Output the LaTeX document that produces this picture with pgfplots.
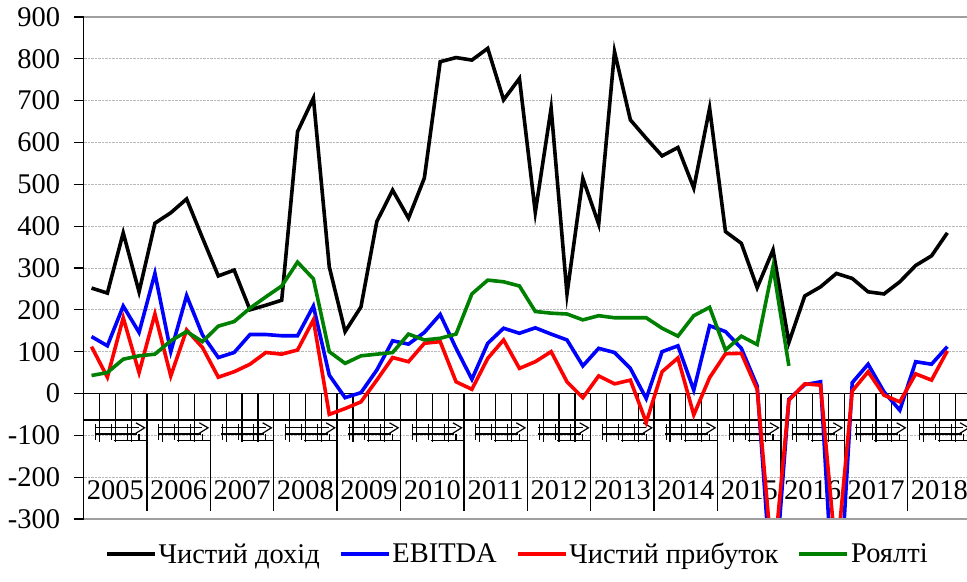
\documentclass[border=0pt]{standalone}
\usepackage{fontspec}
\setmainfont{Liberation Serif}
\usepackage{pgfplots}
\usepackage{pgfplotstable}
\pgfplotsset{compat=1.18}
\newcommand{\cf}{\fontsize{28.5}{34}\selectfont}

\pgfplotstableread{
q black blue red green
0 252 136 112 43
1 240 114 39 50
2 384 209 181 82
3 243 146 50 90
4 407 287 190 94
5 432 100 42 126
6 465 234 152 148
7 372 140 110 124
8 281 86 39 161
9 295 98 52 172
10 200 141 70 204
11 211 141 98 231
12 223 138 94 257
13 626 138 104 314
14 706 209 176 274
15 303 44 -50 100
16 148 -10 -36 72
17 207 2 -20 90
18 411 56 32 94
19 486 126 86 98
20 419 118 76 142
21 515 146 120 128
22 793 189 124 132
23 803 108 28 142
24 797 34 10 238
25 825 120 84 271
26 702 156 128 267
27 753 144 60 257
28 433 157 76 196
29 682 142 100 192
30 238 128 28 190
31 514 66 -10 176
32 405 108 42 186
33 817 98 23 181
34 654 60 32 181
35 610 -12 -69 181
36 568 100 52 156
37 588 114 85 137
38 491 8 -51 186
39 682 162 38 206
40 387 148 95 104
41 359 108 96 137
42 253 18 10 117
43 343 -510 -420 303
44 122 -14 -16 66
45 233 21 23 nan
46 255 28 20 nan
47 287 -620 -400 nan
48 275 26 6 nan
49 243 70 52 nan
50 238 4 -4 nan
51 267 -40 -20 nan
52 306 76 47 nan
53 329 70 32 nan
54 384 112 102 nan
}\datatable

\begin{document}
\begin{tikzpicture}
\begin{axis}[
  scale only axis,
  width=883.4pt, height=502pt,
  xmin=-0.5, xmax=55.24,
  ymin=-300, ymax=900,
  axis x line=none,
  axis y line*=left,
  y axis line style={black, line width=1.8pt},
  ytick={-300,-200,...,900},
  yticklabels={-300,-200,-100,0,100,200,300,400,500,600,700,800,900},
  ytick style={black, line width=1.3pt},
  tick align=outside,
  major tick length=10pt,
  yticklabel style={font=\cf, anchor=east, xshift=-10pt},
  ymajorgrids,
  grid style={gray!55, densely dotted, line width=0.8pt},
  legend style={at={(axis description cs:0.5,0)}, anchor=north, yshift=-20pt, xshift=-8pt,
    draw=none, fill=none, font=\cf, legend columns=4,
    /tikz/every even column/.append style={column sep=17pt}},
  legend image code/.code={\draw[#1] (0pt,0pt) -- (48pt,0pt);},
]
% category axis decoration
\draw[black, line width=1.6pt] (axis cs:-0.5,0) -- (axis cs:55.24,0);
\draw[black, line width=1.3pt] (axis cs:-0.5,-63) -- (axis cs:55.24,-63);
\pgfplotsinvokeforeach{0,...,13}{
  \draw[black, line width=1.2pt] (axis cs:{4*#1+0.5},0) -- (axis cs:{4*#1+0.5},-115);
  \draw[black, line width=1.2pt] (axis cs:{4*#1+1.5},0) -- (axis cs:{4*#1+1.5},-115);
  \draw[black, line width=1.2pt] (axis cs:{4*#1+2.5},0) -- (axis cs:{4*#1+2.5},-115);
  \draw[black, line width=1pt] (axis cs:{4*#1+0.25},-72) -- (axis cs:{4*#1+0.25},-112);
  \draw[black, line width=1pt] (axis cs:{4*#1+1.25},-72) -- (axis cs:{4*#1+1.25},-112);
  \draw[black, line width=1pt] (axis cs:{4*#1+2.25},-72) -- (axis cs:{4*#1+2.25},-112);
  \draw[black, line width=1.2pt] (axis cs:{4*#1+0.2},-82) -- (axis cs:{4*#1+3.0},-82);
  \draw[black, line width=1.2pt] (axis cs:{4*#1+0.2},-97) -- (axis cs:{4*#1+2.9},-97);
  \draw[black, line width=1.2pt] (axis cs:{4*#1+1.4},-113) -- (axis cs:{4*#1+3.5},-113);
  \draw[black, line width=1.2pt] (axis cs:{4*#1+2.8},-70) -- (axis cs:{4*#1+3.35},-82) -- (axis cs:{4*#1+2.8},-95);
  \draw[black, line width=1.2pt] (axis cs:{4*#1+3.0},-97) -- (axis cs:{4*#1+3.0},-113);
  \draw[black, line width=1.2pt] (axis cs:{4*#1+3.5},-100) -- (axis cs:{4*#1+3.5},-113);
}
\pgfplotsinvokeforeach{1,...,13}{
  \draw[black, line width=1.4pt] (axis cs:{4*#1-0.5},0) -- (axis cs:{4*#1-0.5},-280);
}
\pgfplotsinvokeforeach{2005,...,2018}{
  \node[font=\cf, inner sep=0pt] at (axis cs:{4*(#1-2005)+1.5},-232) {#1};
}
\addplot[black, line width=3.6pt] table[x=q, y=black] {\datatable};
\addlegendentry{Чистий дохід}
\addplot[blue, line width=3.6pt] table[x=q, y=blue] {\datatable};
\addlegendentry{EBITDA}
\addplot[red, line width=3.6pt] table[x=q, y=red] {\datatable};
\addlegendentry{Чистий прибуток}
\addplot[green!50!black, line width=3.6pt] table[x=q, y=green] {\datatable};
\addlegendentry{Роялті}
\end{axis}
\draw[gray!75, line width=1.6pt] (current axis.north west) -- (current axis.north east);
\draw[gray!75, line width=1.6pt] (current axis.south west) -- (current axis.south east);
\pgfresetboundingbox
\path ([xshift=-83.6pt,yshift=-62pt]current axis.south west) rectangle ([yshift=17pt]current axis.north east);
\end{tikzpicture}
\end{document}
